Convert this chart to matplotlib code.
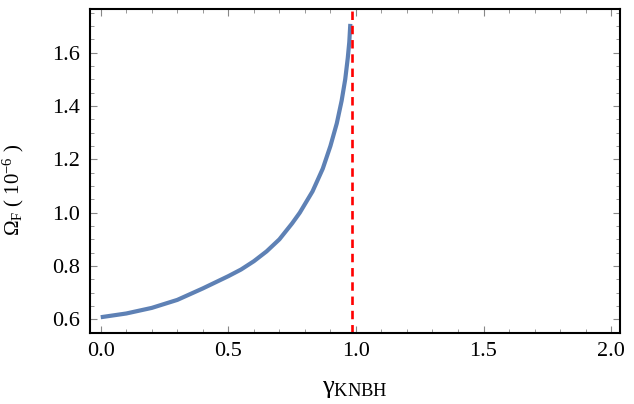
import numpy
from matplotlib import pyplot
from matplotlib.ticker import MultipleLocator

pyplot.rcParams["font.family"] = "Liberation Serif"
pyplot.rcParams["mathtext.fontset"] = "custom"
pyplot.rcParams["mathtext.rm"] = "Liberation Serif"
pyplot.rcParams["mathtext.it"] = "Liberation Serif"

# curve
gamma = numpy.asarray([0.0, 0.1, 0.2, 0.3, 0.4, 0.5, 0.55, 0.6, 0.65, 0.7,
                       0.75, 0.78, 0.83, 0.87, 0.9, 0.925, 0.944, 0.958,
                       0.968, 0.974, 0.978])
omega_F = numpy.asarray([0.608, 0.622, 0.643, 0.673, 0.716, 0.762, 0.787,
                         0.818, 0.855, 0.900, 0.960, 1.000, 1.080, 1.165,
                         1.25, 1.335, 1.42, 1.50, 1.58, 1.64, 1.708])
gamma_crit = 0.985

xticks = [0.0, 0.5, 1.0, 1.5, 2.0]
yticks = [0.6, 0.8, 1.0, 1.2, 1.4, 1.6]

fig = pyplot.figure(figsize=(6.34, 4.04), dpi=100)
axes = fig.add_axes([0.142, 0.1765, 0.836, 0.802])

axes.plot(gamma, omega_F, "-", color="#5E81B5", lw=3.0,
          solid_capstyle="butt", solid_joinstyle="round")
axes.axvline(gamma_crit, color="#FF0000", lw=1.9, ls=(0, (3.2, 2.2)))

axes.set_xlim(-0.042, 2.035)
axes.set_ylim(0.55, 1.765)
axes.set_xticks(xticks)
axes.set_yticks(yticks)
axes.xaxis.set_minor_locator(MultipleLocator(0.1))
axes.yaxis.set_minor_locator(MultipleLocator(0.05))
axes.set_xticklabels(["%.1f" % t for t in xticks])
axes.set_yticklabels(["%.1f" % t for t in yticks])

axes.tick_params(which="both", direction="in", top=True, right=True,
                 color="#888888", labelsize=16, pad=7)
axes.tick_params(which="major", length=5, width=0.8)
axes.tick_params(which="minor", length=3, width=0.6)
for s in axes.spines.values():
    s.set_linewidth(1.5)

axes.set_xlabel(r"γ$_{\rm KNBH}$", fontsize=19, labelpad=12)
axes.set_ylabel(r"Ω$_{\rm F}$ ( 10$^{-6}$ )", fontsize=15)
axes.yaxis.set_label_coords(-0.12, 0.44)

fig.savefig("out.png", dpi=100)
